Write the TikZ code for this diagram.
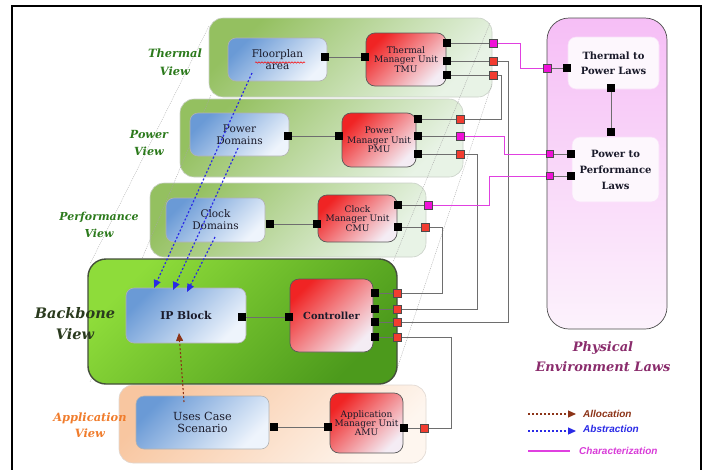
\documentclass[tikz,border=0pt]{standalone}
\usepackage{fontspec}
\newfontfamily\boxfont[WordSpace=1.7]{DejaVu Serif}
\newfontfamily\labfont{DejaVu Serif}
\newfontfamily\legfont{Liberation Sans}
\usetikzlibrary{arrows.meta,decorations.pathmorphing}
\definecolor{gA}{HTML}{94C060}
\definecolor{gB}{HTML}{E8F3E6}
\definecolor{bbA}{HTML}{8EDC3A}
\definecolor{bbB}{HTML}{4C9A1C}
\definecolor{apA}{HTML}{F8C6A0}
\definecolor{apB}{HTML}{FEF6EF}
\definecolor{phA}{HTML}{F6BEF6}
\definecolor{phB}{HTML}{FCF2FC}
\definecolor{blA}{HTML}{6A9AD6}
\definecolor{blB}{HTML}{EEF4FC}
\definecolor{rdA}{HTML}{F02424}
\definecolor{rdB}{HTML}{F4ECF4}
\definecolor{wireC}{HTML}{6E6E6E}
\definecolor{magC}{HTML}{E040E0}
\definecolor{magF}{HTML}{F012D8}
\definecolor{redF}{HTML}{F23C30}
\definecolor{absC}{HTML}{2A2AE6}
\definecolor{allC}{HTML}{8C3418}
\definecolor{tgreen}{HTML}{2C7A1C}
\definecolor{tdark}{HTML}{2A3A1E}
\definecolor{torange}{HTML}{F07C2C}
\definecolor{tpurple}{HTML}{8A2C6C}
\definecolor{tmag}{HTML}{D83CD8}
\definecolor{txt}{HTML}{1A1A2A}
\begin{document}
\begin{tikzpicture}[x=1pt,y=-1pt,
  sz/.style 2 args={minimum width=#1, minimum height=#2},
  panel/.style={rounded corners=14pt, top color=gA, bottom color=gB, shading angle=45, draw=gB!70!gray, line width=0.6pt, inner sep=0},
  bbpanel/.style={rounded corners=18pt, top color=bbA, bottom color=bbB, shading angle=45, draw=tdark!70!gray, line width=1.4pt, inner sep=0},
  appanel/.style={rounded corners=14pt, top color=apA, bottom color=apB, shading angle=45, draw=apA!40!gray!40, line width=0.6pt, inner sep=0},
  phpanel/.style={rounded corners=22pt, top color=phA, bottom color=phB, draw=black!70, line width=0.7pt, inner sep=0},
  bluebox/.style={rounded corners=8pt, top color=blA, bottom color=blB, shading angle=45, draw=black!30, line width=0.6pt, inner sep=1pt, align=center, text=txt, font=\boxfont\fontsize{10.5}{12}\selectfont},
  redbox/.style={rounded corners=9pt, top color=rdA, bottom color=rdB, shading angle=45, draw=black!65, line width=0.7pt, inner sep=1pt, align=center, text=txt, font=\boxfont\fontsize{9}{9.3}\selectfont},
  lawbox/.style={rounded corners=8pt, fill=phB!60!white, draw=phA!50!white, line width=0.6pt, align=center, text=txt, font=\boxfont\bfseries\fontsize{10}{15}\selectfont},
  bport/.style={fill=black, minimum size=7.5pt, inner sep=0},
  rport/.style={fill=redF, draw=black!70, line width=0.4pt, minimum size=8pt, inner sep=0},
  mport/.style={fill=magF, draw=black!70, line width=0.4pt, minimum size=8pt, inner sep=0},
  wire/.style={draw=wireC, line width=0.9pt},
  mwire/.style={draw=magC, line width=0.9pt},
  guide/.style={draw=black!35, line width=0.4pt, dash pattern=on 1pt off 1pt},
  absarrow/.style={draw=absC, line width=1.2pt, dash pattern=on 2pt off 2pt, -{Triangle[length=8pt,width=7pt]}},
  allarrow/.style={draw=allC, line width=1.1pt, dash pattern=on 2pt off 2pt, -{Triangle[length=8pt,width=7pt]}},
  lab/.style={align=center, font=\labfont\bfseries\itshape\fontsize{11.4}{17.5}\selectfont},
  leg/.style={anchor=west, inner sep=0, font=\legfont\bfseries\itshape\fontsize{10}{12}\selectfont}
]
\useasboundingbox (0,0) rectangle (704,469);
\begin{scope}
\clip (0,0) rectangle (704,469);
\draw[line width=2pt] (12,6) rectangle (701,480);
\end{scope}

% view panels
\node[panel, sz={283}{79}] (thermalP) at (350.5,57.5) {};
\node[panel, sz={283}{78}] (powerP) at (321.5,138) {};
\node[panel, sz={276}{74}] (perfP) at (288,220) {};
\node[phpanel, sz={120}{311}] (physP) at (607,173.5) {};

% perspective guides
\draw[guide] (209,26) -- (90,264);
\draw[guide] (211,95) -- (90,382);
\draw[guide] (490,23) -- (393,262);
\draw[guide] (492,84) -- (396,372);

\node[appanel, sz={307}{78}] (appP) at (272.5,424) {};
\node[bbpanel, sz={309}{125}] (backP) at (242.5,321.5) {};

% view labels
\node[lab, text=tgreen] (lthermal) at (175,62) {Thermal\\View};
\node[lab, text=tgreen, font=\labfont\bfseries\itshape\fontsize{11.2}{16.5}\selectfont] (lpower) at (149,143) {Power\\View};
\node[lab, text=tgreen, font=\labfont\bfseries\itshape\fontsize{11}{17}\selectfont] (lperf) at (99,225) {Performance\\View};
\node[lab, text=tdark, font=\labfont\bfseries\itshape\fontsize{14.5}{21}\selectfont] (lback) at (75,324) {Backbone\\View};
\node[lab, text=torange, font=\labfont\bfseries\itshape\fontsize{11.4}{16}\selectfont] (lapp) at (90,425) {Application\\View};
\node[lab, text=tpurple, font=\labfont\bfseries\itshape\fontsize{13}{20}\selectfont] (lphys) at (603,357) {Physical\\Environment Laws};

% boxes
\node[bluebox, sz={99}{43}] (floor) at (277.5,59.5) {Floorplan\\area};
\draw[red, line width=0.5pt, decorate, decoration={snake, amplitude=0.7pt, segment length=3pt}] (255,62.5) -- (305,62.5);
\node[redbox, sz={80}{53}] (tmu) at (406,59.5) {Thermal\\Manager Unit\\TMU};
\node[bluebox, sz={99}{43}] (pdom) at (239.5,134.5) {Power\\Domains};
\node[redbox, sz={74}{54}] (pmu) at (379,140) {Power\\Manager Unit\\PMU};
\node[bluebox, sz={99}{44}] (cdom) at (215.5,220) {Clock\\Domains};
\node[redbox, sz={79}{47}] (cmu) at (357.5,218.5) {Clock\\Manager Unit\\CMU};
\node[bluebox, sz={120}{55}, font=\boxfont\bfseries\fontsize{10.8}{14}\selectfont] (ip) at (186,315.5) {IP Block};
\node[redbox, sz={83}{73}, font=\boxfont\bfseries\fontsize{9.8}{12}\selectfont] (ctrl) at (331.5,315.5) {Controller};
\node[bluebox, sz={133}{53}, font=\boxfont\fontsize{11.2}{12.5}\selectfont] (uses) at (202.5,422.5) {Uses Case\\Scenario};
\node[redbox, sz={73}{60}] (amu) at (366.5,423) {Application\\Manager Unit\\AMU};
\node[lawbox, sz={91}{52}] (tpl) at (613.5,63) {Thermal to\\Power Laws};
\node[lawbox, sz={87}{65}, font=\boxfont\bfseries\fontsize{10}{16}\selectfont] (ppl) at (615.5,169.5) {Power to\\Performance\\Laws};

% black ports
\node[bport] (floorR) at (325,57) {};
\node[bport] (tmuL) at (365,57) {};
\node[bport] (tmuR1) at (447,43) {};
\node[bport] (tmuR2) at (447,61) {};
\node[bport] (tmuR3) at (447,75) {};
\node[bport] (pdomR) at (288,136) {};
\node[bport] (pmuL) at (339,136) {};
\node[bport] (pmuR1) at (418,119) {};
\node[bport] (pmuR2) at (418,136) {};
\node[bport] (pmuR3) at (418,154) {};
\node[bport] (cdomR) at (270,224) {};
\node[bport] (cmuL) at (317,224) {};
\node[bport] (cmuR1) at (398,205) {};
\node[bport] (cmuR2) at (398,227) {};
\node[bport] (ipR) at (242,317) {};
\node[bport] (ctrlL) at (289,317) {};
\node[bport] (ctrlR1) at (375,293) {};
\node[bport] (ctrlR2) at (375,309) {};
\node[bport] (ctrlR3) at (375,322) {};
\node[bport] (ctrlR4) at (375,337) {};
\node[bport] (usesR) at (274,427) {};
\node[bport] (amuL) at (328,427) {};
\node[bport] (amuR) at (404,428) {};
\node[bport] (tplL) at (567,68) {};
\node[bport] (tplB) at (611,88) {};
\node[bport] (pplT) at (611,132) {};
\node[bport] (pplL1) at (571,154) {};
\node[bport] (pplL2) at (571,176) {};

% outer port positions
\coordinate (tmuO1c) at (493,43);
\coordinate (tmuO2c) at (493,61);
\coordinate (tmuO3c) at (493,75);
\coordinate (pmuO1c) at (460,119);
\coordinate (pmuO2c) at (460,136);
\coordinate (pmuO3c) at (460,154);
\coordinate (cmuO1c) at (428,205);
\coordinate (cmuO2c) at (425,227);
\coordinate (ctrlO1c) at (397,293);
\coordinate (ctrlO2c) at (397,309);
\coordinate (ctrlO3c) at (397,322);
\coordinate (ctrlO4c) at (397,337);
\coordinate (amuOc) at (424,428);
\coordinate (tplMc) at (547,68);
\coordinate (pplM1c) at (550,154);
\coordinate (pplM2c) at (550,176);

% wires
\draw[wire] (floorR) -- (tmuL);
\draw[wire] (pdomR) -- (pmuL);
\draw[wire] (cdomR) -- (cmuL);
\draw[wire] (ipR) -- (ctrlL);
\draw[wire] (usesR) -- (amuL);
\draw[wire] (tplB) -- (pplT);
\draw[wire] (tmuR1) -- (tmuO1c);
\draw[wire] (tmuR2) -- (tmuO2c);
\draw[wire] (tmuR3) -- (tmuO3c);
\draw[wire] (pmuR1) -- (pmuO1c);
\draw[wire] (pmuR2) -- (pmuO2c);
\draw[wire] (pmuR3) -- (pmuO3c);
\draw[wire] (cmuR1) -- (cmuO1c);
\draw[wire] (cmuR2) -- (cmuO2c);
\draw[wire] (ctrlR1) -- (ctrlO1c);
\draw[wire] (ctrlR2) -- (ctrlO2c);
\draw[wire] (ctrlR3) -- (ctrlO3c);
\draw[wire] (ctrlR4) -- (ctrlO4c);
\draw[wire] (amuR) -- (amuOc);
\draw[wire] (tplMc) -- (tplL);
\draw[wire] (pplM1c) -- (pplL1);
\draw[wire] (pplM2c) -- (pplL2);
\draw[wire] (tmuO2c) -- ++(15,0) |- (ctrlO3c);
\draw[wire] (tmuO3c) -- ++(8,0) |- (pmuO1c);
\draw[wire] (pmuO3c) -- ++(17,0) |- (ctrlO2c);
\draw[wire] (cmuO2c) -- ++(17,0) |- (ctrlO1c);
\draw[wire] (ctrlO4c) -- ++(54,0) |- (amuOc);
\draw[mwire] (tmuO1c) -- ++(27,0) |- (tplMc);
\draw[mwire] (pmuO2c) -- ++(44,0) |- (pplM1c);
\draw[mwire] (cmuO1c) -- ++(61,0) |- (pplM2c);

% outer port squares
\node[mport] (tmuO1) at (tmuO1c) {};
\node[rport] (tmuO2) at (tmuO2c) {};
\node[rport] (tmuO3) at (tmuO3c) {};
\node[rport] (pmuO1) at (pmuO1c) {};
\node[mport] (pmuO2) at (pmuO2c) {};
\node[rport] (pmuO3) at (pmuO3c) {};
\node[mport] (cmuO1) at (cmuO1c) {};
\node[rport] (cmuO2) at (cmuO2c) {};
\node[rport] (ctrlO1) at (ctrlO1c) {};
\node[rport] (ctrlO2) at (ctrlO2c) {};
\node[rport] (ctrlO3) at (ctrlO3c) {};
\node[rport] (ctrlO4) at (ctrlO4c) {};
\node[rport] (amuO) at (amuOc) {};
\node[mport] (tplM) at (tplMc) {};
\node[mport, minimum size=7pt] (pplM1) at (pplM1c) {};
\node[mport, minimum size=7pt] (pplM2) at (pplM2c) {};

% abstraction / allocation arrows
\coordinate (a1s) at (252,73);
\coordinate (a1e) at (154,288);
\coordinate (a2s) at (238,148);
\coordinate (a2e) at (173,290);
\coordinate (a3s) at (215,237);
\coordinate (a3e) at (187,292);
\draw[absarrow] (a1s) -- (a1e);
\draw[absarrow] (a2s) -- (a2e);
\draw[absarrow] (a3s) -- (a3e);
\coordinate (b1s) at (184,402);
\coordinate (b1e) at (179,333);
\draw[allarrow] (b1s) -- (b1e);

% legend
\coordinate (l1s) at (528,414);
\coordinate (l1e) at (576,414);
\coordinate (l2s) at (528,431);
\coordinate (l2e) at (576,431);
\coordinate (l3s) at (528,451);
\coordinate (l3e) at (570,451);
\draw[allarrow] (l1s) -- (l1e);
\draw[absarrow] (l2s) -- (l2e);
\draw[draw=magC, line width=1.3pt] (l3s) -- (l3e);
\node[leg, text=allC] (tAll) at (583,413.5) {Allocation};
\node[leg, text=absC] (tAbs) at (583,428.5) {Abstraction};
\node[leg, text=tmag] (tChar) at (579,451) {Characterization};
\end{tikzpicture}
\end{document}
